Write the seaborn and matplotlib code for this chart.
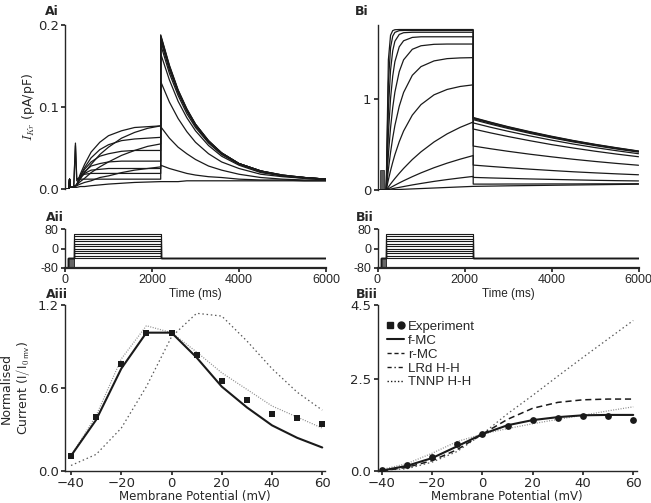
import matplotlib
matplotlib.use("Agg")
import numpy as np
import pandas as pd
import seaborn as sns
import matplotlib.pyplot as plt
from matplotlib.lines import Line2D
from matplotlib.legend_handler import HandlerTuple

# step voltages (mV) of the protocol, low to high
volts = [-40, -30, -20, -10, 0, 10, 20, 30, 40, 50, 60]

# ---- Ai: IKr traces (pA/pF) ----
t_pre_a = [0, 90, 105, 125]
ikr_pre = [0.0, 0.0, 0.012, 0.002]
t_step_a = [200, 240, 270, 350, 450, 600, 800, 1000, 1300, 1600, 1900, 2200]
ikr_step = [
    [0.002, 0.002, 0.002, 0.003, 0.003, 0.004, 0.005, 0.006, 0.007, 0.008, 0.0085, 0.009],
    [0.002, 0.003, 0.004, 0.006, 0.008, 0.010, 0.014, 0.016, 0.020, 0.023, 0.025, 0.027],
    [0.002, 0.004, 0.005, 0.009, 0.013, 0.020, 0.027, 0.033, 0.041, 0.047, 0.052, 0.055],
    [0.002, 0.004, 0.005, 0.012, 0.020, 0.030, 0.042, 0.051, 0.062, 0.069, 0.074, 0.077],
    [0.002, 0.004, 0.005, 0.018, 0.030, 0.045, 0.057, 0.065, 0.071, 0.075, 0.076, 0.077],
    [0.002, 0.004, 0.005, 0.016, 0.026, 0.038, 0.048, 0.054, 0.059, 0.061, 0.062, 0.063],
    [0.002, 0.004, 0.005, 0.015, 0.024, 0.033, 0.040, 0.043, 0.046, 0.047, 0.047, 0.047],
    [0.002, 0.004, 0.005, 0.014, 0.021, 0.028, 0.031, 0.033, 0.034, 0.034, 0.034, 0.034],
    [0.002, 0.004, 0.005, 0.014, 0.019, 0.023, 0.024, 0.025, 0.025, 0.025, 0.025, 0.025],
    [0.002, 0.053, 0.010, 0.016, 0.018, 0.019, 0.019, 0.019, 0.019, 0.019, 0.019, 0.019],
    [0.002, 0.056, 0.013, 0.012, 0.012, 0.012, 0.012, 0.012, 0.012, 0.012, 0.012, 0.012],
]
t_tail_a = [2200, 2400, 2600, 2800, 3000, 3300, 3600, 4000, 4500, 5000, 5500, 6000]
ikr_tail = [
    [0.009, 0.009, 0.009, 0.010, 0.010, 0.010, 0.010, 0.010, 0.010, 0.010, 0.010, 0.010],
    [0.029, 0.025, 0.022, 0.019, 0.017, 0.015, 0.014, 0.012, 0.011, 0.011, 0.010, 0.010],
    [0.076, 0.062, 0.051, 0.043, 0.036, 0.028, 0.023, 0.018, 0.014, 0.012, 0.011, 0.011],
    [0.131, 0.106, 0.086, 0.070, 0.057, 0.043, 0.033, 0.025, 0.018, 0.015, 0.013, 0.011],
    [0.165, 0.133, 0.107, 0.087, 0.071, 0.053, 0.040, 0.029, 0.020, 0.016, 0.013, 0.012],
    [0.176, 0.141, 0.114, 0.092, 0.075, 0.056, 0.042, 0.030, 0.021, 0.016, 0.014, 0.012],
    [0.181, 0.145, 0.117, 0.095, 0.077, 0.057, 0.043, 0.031, 0.022, 0.016, 0.014, 0.012],
    [0.184, 0.148, 0.119, 0.096, 0.078, 0.058, 0.044, 0.031, 0.022, 0.016, 0.014, 0.012],
    [0.186, 0.149, 0.120, 0.097, 0.079, 0.058, 0.044, 0.031, 0.022, 0.017, 0.014, 0.012],
    [0.187, 0.150, 0.120, 0.097, 0.079, 0.059, 0.044, 0.031, 0.022, 0.017, 0.014, 0.012],
    [0.188, 0.151, 0.121, 0.098, 0.079, 0.059, 0.044, 0.031, 0.022, 0.017, 0.014, 0.012],
]

# ---- Bi: IKs traces ----
t_pre_b = [0, 150]
iks_pre = [0.0, 0.0]
t_step_b = [200, 250, 300, 350, 400, 500, 600, 800, 1000, 1300, 1600, 1900, 2200]
iks_step = [
    [0, 0.001, 0.002, 0.003, 0.004, 0.006, 0.008, 0.012, 0.016, 0.022, 0.028, 0.034, 0.040],
    [0, 0.005, 0.010, 0.015, 0.020, 0.029, 0.038, 0.056, 0.072, 0.095, 0.115, 0.133, 0.150],
    [0, 0.014, 0.027, 0.040, 0.053, 0.078, 0.102, 0.147, 0.189, 0.246, 0.296, 0.340, 0.380],
    [0, 0.033, 0.066, 0.097, 0.127, 0.184, 0.238, 0.336, 0.421, 0.530, 0.619, 0.691, 0.750],
    [0, 0.112, 0.214, 0.306, 0.390, 0.533, 0.651, 0.826, 0.942, 1.050, 1.109, 1.142, 1.160],
    [0, 0.224, 0.414, 0.575, 0.712, 0.924, 1.076, 1.265, 1.361, 1.424, 1.449, 1.457, 1.460],
    [0, 0.390, 0.686, 0.910, 1.080, 1.306, 1.436, 1.552, 1.591, 1.607, 1.610, 1.610, 1.610],
    [0, 0.617, 1.009, 1.257, 1.416, 1.580, 1.646, 1.683, 1.690, 1.690, 1.690, 1.690, 1.690],
    [0, 0.887, 1.322, 1.536, 1.641, 1.716, 1.735, 1.740, 1.740, 1.740, 1.740, 1.740, 1.740],
    [0, 1.181, 1.570, 1.697, 1.739, 1.758, 1.760, 1.760, 1.760, 1.760, 1.760, 1.760, 1.760],
    [0, 1.436, 1.707, 1.758, 1.768, 1.770, 1.770, 1.770, 1.770, 1.770, 1.770, 1.770, 1.770],
]
t_tail_b = [2200, 2600, 3000, 3500, 4000, 4500, 5000, 5500, 6000]
iks_tail = [
    [0.040, 0.043, 0.046, 0.049, 0.052, 0.055, 0.058, 0.061, 0.064],
    [0.065, 0.065, 0.066, 0.066, 0.067, 0.067, 0.068, 0.068, 0.069],
    [0.139, 0.133, 0.128, 0.122, 0.117, 0.112, 0.107, 0.103, 0.100],
    [0.275, 0.260, 0.246, 0.230, 0.215, 0.201, 0.189, 0.178, 0.168],
    [0.485, 0.455, 0.427, 0.395, 0.366, 0.339, 0.315, 0.293, 0.273],
    [0.673, 0.630, 0.590, 0.544, 0.501, 0.463, 0.428, 0.396, 0.367],
    [0.740, 0.692, 0.648, 0.597, 0.550, 0.507, 0.468, 0.433, 0.400],
    [0.776, 0.726, 0.679, 0.625, 0.576, 0.530, 0.490, 0.452, 0.418],
    [0.787, 0.736, 0.688, 0.634, 0.583, 0.538, 0.496, 0.458, 0.424],
    [0.795, 0.744, 0.695, 0.640, 0.589, 0.543, 0.501, 0.463, 0.428],
    [0.800, 0.748, 0.699, 0.644, 0.593, 0.546, 0.504, 0.466, 0.430],
]
iks_prepulse = [50, 160, 0.22]   # start, end (ms), height

# ---- Aii / Bii: voltage protocol ----
prot_t = [0, 80, 80, 200, 200, 2200, 2200, 6000]
hold_v = -80
tail_v = -40
prepulse = [80, 200]

# ---- Aiii / Biii: normalised current ----
exp_a = [0.11, 0.39, 0.77, 1.00, 1.00, 0.84, 0.65, 0.51, 0.41, 0.385, 0.34]
fmc_a = [0.11, 0.37, 0.74, 1.00, 1.00, 0.82, 0.61, 0.46, 0.33, 0.24, 0.17]
tnnp_a = [0.11, 0.40, 0.81, 1.05, 1.00, 0.86, 0.71, 0.59, 0.47, 0.39, 0.31]
lrd_a = [0.04, 0.12, 0.31, 0.61, 0.97, 1.14, 1.12, 0.94, 0.74, 0.57, 0.44]

exp_b = [0.02, 0.15, 0.39, 0.73, 1.01, 1.22, 1.37, 1.45, 1.49, 1.48, 1.37]
fmc_b = [0.01, 0.14, 0.35, 0.67, 1.00, 1.24, 1.38, 1.46, 1.51, 1.52, 1.52]
rmc_b = [0.00, 0.10, 0.28, 0.58, 1.00, 1.40, 1.70, 1.86, 1.93, 1.95, 1.95]
lrd_b = [0.02, 0.06, 0.24, 0.53, 1.00, 1.55, 2.05, 2.57, 3.08, 3.58, 4.08]
tnnp_b = [0.04, 0.20, 0.48, 0.80, 1.00, 1.15, 1.28, 1.40, 1.51, 1.63, 1.74]


def traces(t_pre, i_pre, t_step, steps, t_tail, tails):
    rows = []
    for v, s, tl in zip(volts, steps, tails):
        rows.append(pd.DataFrame({"t": t_pre + t_step + t_tail,
                                  "I": i_pre + s + tl, "V": v}))
    return pd.concat(rows, ignore_index=True)


df_a = traces(t_pre_a, ikr_pre, t_step_a, ikr_step, t_tail_a, ikr_tail)
df_b = traces(t_pre_b, iks_pre, t_step_b, iks_step, t_tail_b, iks_tail)
df_p = pd.concat([pd.DataFrame({"t": prot_t,
                                "mV": [hold_v, hold_v, tail_v, tail_v, v, v, tail_v, tail_v],
                                "V": v}) for v in volts], ignore_index=True)

sns.set_theme(style="ticks")
plt.rcParams["font.family"] = ["DejaVu Sans"]
plt.rcParams["mathtext.fontset"] = "cm"
plt.rcParams["axes.linewidth"] = 1.0
plt.rcParams["xtick.major.size"] = 3
plt.rcParams["ytick.major.size"] = 3
plt.rcParams["xtick.major.pad"] = 1.5
plt.rcParams["ytick.major.pad"] = 1.5
plt.rcParams["xtick.labelsize"] = 9.5
plt.rcParams["ytick.labelsize"] = 9.5

fig = plt.figure(figsize=(6.51, 5.03), dpi=100)


def px_axes(l, t, r, b):
    return fig.add_axes([l / 651, 1 - b / 503, (r - l) / 651, (b - t) / 503])


ax_ai = px_axes(65, 25, 326, 189)
ax_bi = px_axes(377.5, 25, 638.5, 190)
ax_aii = px_axes(65, 229, 326, 268)
ax_bii = px_axes(377.5, 229, 638.5, 268)
ax_aiii = px_axes(65, 305, 325, 471)
ax_biii = px_axes(377.5, 305, 637, 471)

# current traces
for ax, df in [(ax_ai, df_a), (ax_bi, df_b)]:
    sns.lineplot(data=df, x="t", y="I", units="V", estimator=None, sort=False,
                 color="k", lw=0.9, legend=False, ax=ax)
    ax.set_xlim(0, 6000)
    sns.despine(ax=ax, bottom=True)
    ax.set_xticks([])
    ax.set_xlabel("")
ax_bi.bar((iks_prepulse[0] + iks_prepulse[1]) / 2, iks_prepulse[2],
          width=iks_prepulse[1] - iks_prepulse[0], color="0.35",
          edgecolor="k", lw=0.5)
ax_ai.set_ylim(0, 0.2)
ax_ai.set_yticks([0.0, 0.1, 0.2])
ax_ai.set_ylabel("$I_{Kr}$ (pA/pF)", fontsize=9, color="0.15")
ax_ai.yaxis.set_label_coords(-0.108, 0.5)
ax_bi.set_ylim(0, 1.82)
ax_bi.set_yticks([0, 1])
ax_bi.set_ylabel("")

# protocols
for ax in [ax_aii, ax_bii]:
    ax.bar((prepulse[0] + prepulse[1]) / 2, tail_v - hold_v, bottom=hold_v,
           width=prepulse[1] - prepulse[0], color="0.4", edgecolor="k", lw=0.6)
    sns.lineplot(data=df_p, x="t", y="mV", units="V", estimator=None, sort=False,
                 color="k", lw=0.8, legend=False, ax=ax)
    ax.set_xlim(0, 6000)
    ax.set_ylim(-80, 80)
    ax.set_yticks([-80, 0, 80], ["-80", "0", "80"])
    ax.set_xticks([0, 2000, 4000, 6000], ["0", "2000", "4000", "6000"])
    ax.tick_params(labelfontfamily="Liberation Sans", labelsize=9)
    ax.set_xlabel("Time (ms)", family="Liberation Sans", fontsize=8.5, labelpad=1)
    ax.set_ylabel("")
    ax.spines["bottom"].set_linewidth(1.6)
    sns.despine(ax=ax)

# I-V curves
dot_lrd = (0, (1.2, 2.2))
dot_tnnp = (0, (0.8, 1.2))
sns.lineplot(x=volts, y=lrd_a, color="0.35", lw=0.9, linestyle=dot_lrd, ax=ax_aiii)
sns.lineplot(x=volts, y=tnnp_a, color="0.55", lw=0.9, linestyle=dot_tnnp, ax=ax_aiii)
sns.lineplot(x=volts, y=fmc_a, color="k", lw=1.5, ax=ax_aiii)
sns.scatterplot(x=volts, y=exp_a, marker="s", color="k", s=24, linewidth=0,
                zorder=5, ax=ax_aiii)
ax_aiii.set_xlim(-42.4, 61.1)
ax_aiii.set_ylim(0, 1.2)
ax_aiii.set_yticks([0.0, 0.6, 1.2])
ax_aiii.set_ylabel("Normalised\nCurrent ($\\mathsf{I/I_{0\\ mv}}$)", fontsize=9,
                   linespacing=1.1)
ax_aiii.yaxis.set_label_coords(-0.125, 0.5)

sns.lineplot(x=volts, y=lrd_b, color="0.35", lw=0.9, linestyle=dot_lrd, ax=ax_biii)
sns.lineplot(x=volts, y=tnnp_b, color="0.55", lw=0.9, linestyle=dot_tnnp, ax=ax_biii)
sns.lineplot(x=volts, y=rmc_b, color="k", lw=1.1, linestyle=(0, (4, 2.5)), ax=ax_biii)
sns.lineplot(x=volts, y=fmc_b, color="k", lw=1.5, ax=ax_biii)
sns.scatterplot(x=volts, y=exp_b, marker="o", color="k", s=24, linewidth=0,
                zorder=5, ax=ax_biii)
ax_biii.set_xlim(-41.7, 61.5)
ax_biii.set_ylim(0, 4.5)
ax_biii.set_yticks([0.0, 2.5, 4.5], ["0.0", "2.5", "4.5"])

for ax in [ax_aiii, ax_biii]:
    ax.set_xticks([-40, -20, 0, 20, 40, 60])
    ax.set_xlabel("Membrane Potential (mV)", fontsize=8.5, labelpad=0)
    sns.despine(ax=ax)

handles = [
    (Line2D([], [], marker="s", color="k", ls="", ms=5),
     Line2D([], [], marker="o", color="k", ls="", ms=5)),
    Line2D([], [], color="k", lw=1.5),
    Line2D([], [], color="k", lw=1.0, ls=(0, (3, 2))),
    Line2D([], [], color="k", lw=1.0, ls=(0, (3, 2, 1, 2))),
    Line2D([], [], color="k", lw=1.0, ls=(0, (1, 1.5))),
]
labels = ["Experiment", "f-MC", "r-MC", "LRd H-H", "TNNP H-H"]
ax_biii.legend(handles, labels, loc="upper left", bbox_to_anchor=(0.0, 0.96),
               frameon=False, handlelength=1.3, handletextpad=0.3,
               labelspacing=0.12, borderpad=0.2,
               prop={"family": "Liberation Sans", "size": 9.5},
               handler_map={tuple: HandlerTuple(ndivide=None, pad=0.3)})

# panel letters
for txt, x, y in [("Ai", 45, 15), ("Bi", 355, 15), ("Aii", 46, 221),
                  ("Bii", 356, 221), ("Aiii", 46, 298), ("Biii", 356, 298)]:
    fig.text(x / 651, 1 - y / 503, txt, fontsize=9, fontweight="bold",
             va="baseline", ha="left")

fig.savefig("out.png", dpi=100)
